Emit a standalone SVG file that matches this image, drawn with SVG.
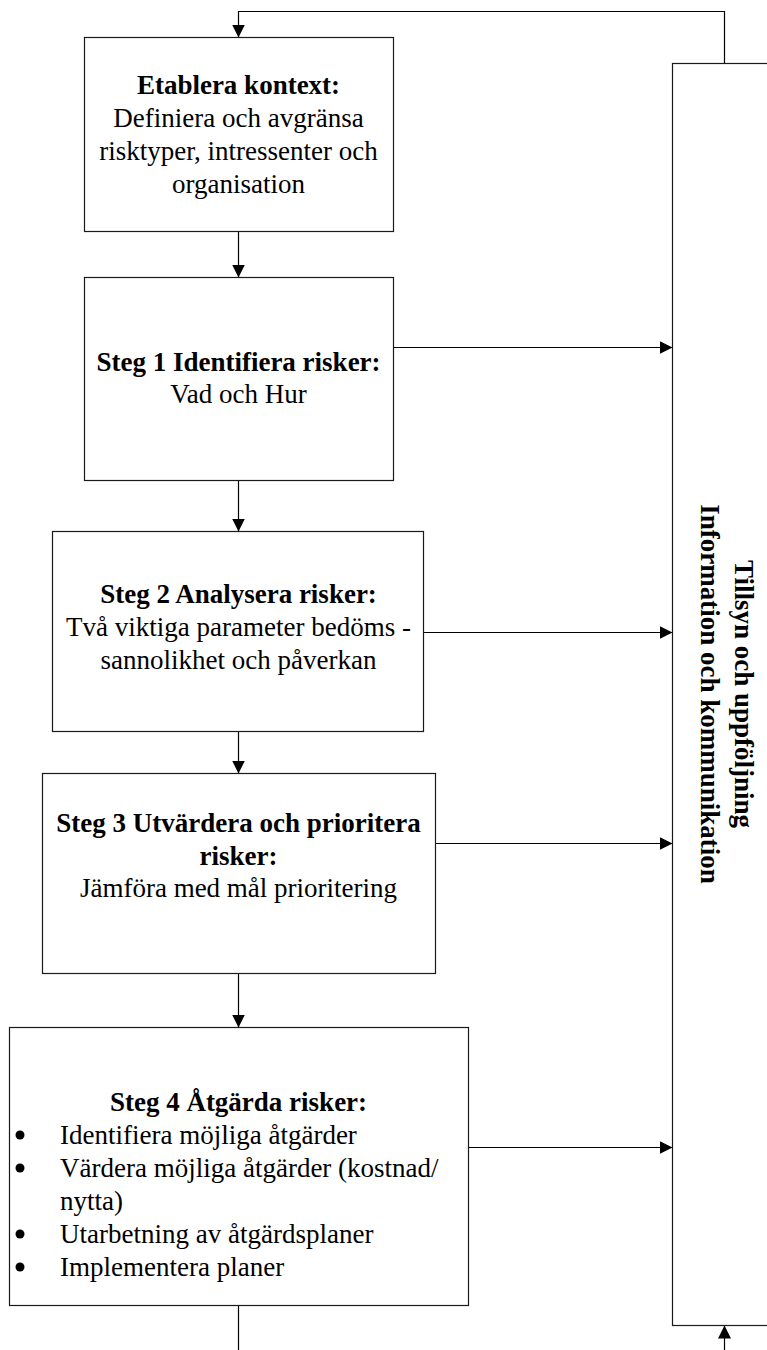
<svg xmlns="http://www.w3.org/2000/svg" width="767" height="1350" viewBox="0 0 767 1350">
  <style>
    .box { fill: #ffffff; stroke: #1a1a1a; stroke-width: 1.2; }
    .wire { fill: none; stroke: #000000; stroke-width: 1.2; }
    .dot { fill: #000000; }
    text { font-family: "Liberation Serif", "Times New Roman", serif; font-size: 27px; fill: #000000; }
    .c { text-anchor: middle; }
    .b { font-weight: bold; }
  </style>
  <defs>
    <marker id="arrow" markerUnits="userSpaceOnUse" markerWidth="13" markerHeight="13" refX="13" refY="6.5" orient="auto">
      <path d="M0,0 L13,6.5 L0,13 Z" fill="#000000"/>
    </marker>
  </defs>

  <rect width="767" height="1350" fill="#ffffff"/>

  <!-- connectors -->
  <g id="connectors">
    <!-- feedback loop from the monitoring column back to the start -->
    <polyline class="wire" points="724.5,63.5 724.5,11.5 238.5,11.5 238.5,37.5" marker-end="url(#arrow)"/>
    <line class="wire" x1="238.5" y1="231.5" x2="238.5" y2="277.5" marker-end="url(#arrow)"/>
    <line class="wire" x1="238.5" y1="480.5" x2="238.5" y2="531.5" marker-end="url(#arrow)"/>
    <line class="wire" x1="238.5" y1="731.5" x2="238.5" y2="773.5" marker-end="url(#arrow)"/>
    <line class="wire" x1="238.5" y1="973.5" x2="238.5" y2="1027.5" marker-end="url(#arrow)"/>
    <line class="wire" x1="238.5" y1="1305.5" x2="238.5" y2="1350"/>
    <!-- reporting into the monitoring column -->
    <line class="wire" x1="380" y1="347.5" x2="672.5" y2="347.5" marker-end="url(#arrow)"/>
    <line class="wire" x1="423.5" y1="632.5" x2="672.5" y2="632.5" marker-end="url(#arrow)"/>
    <line class="wire" x1="435.5" y1="843.5" x2="672.5" y2="843.5" marker-end="url(#arrow)"/>
    <line class="wire" x1="468.5" y1="1147.5" x2="672.5" y2="1147.5" marker-end="url(#arrow)"/>
    <line class="wire" x1="724.5" y1="1350" x2="724.5" y2="1325.5" marker-end="url(#arrow)"/>
  </g>

  <g id="kontext">
    <rect class="box" x="84.5" y="37.5" width="309" height="194"/>
    <text class="c b" x="238.5" y="94">Etablera kontext:</text>
    <text class="c" x="238.5" y="127">Definiera och avgränsa</text>
    <text class="c" x="238.5" y="160">risktyper, intressenter och</text>
    <text class="c" x="238.5" y="193">organisation</text>
  </g>

  <g id="steg1">
    <rect class="box" x="84.5" y="277.5" width="309" height="203"/>
    <text class="c b" x="238.5" y="371">Steg 1 Identifiera risker:</text>
    <text class="c" x="238.5" y="403">Vad och Hur</text>
  </g>

  <g id="steg2">
    <rect class="box" x="52.5" y="531.5" width="371" height="200"/>
    <text class="c b" x="238.5" y="603">Steg 2 Analysera risker:</text>
    <text class="c" x="238.5" y="636">Två viktiga parameter bedöms -</text>
    <text class="c" x="238.5" y="669">sannolikhet och påverkan</text>
  </g>

  <g id="steg3">
    <rect class="box" x="42.5" y="773.5" width="393" height="200"/>
    <text class="c b" x="238.5" y="832">Steg 3 Utvärdera och prioritera</text>
    <text class="c b" x="238.5" y="865">risker:</text>
    <text class="c" x="238.5" y="897">Jämföra med mål prioritering</text>
  </g>

  <g id="steg4">
    <rect class="box" x="9.5" y="1027.5" width="459" height="278"/>
    <text class="c b" x="238.5" y="1111">Steg 4 Åtgärda risker:</text>
    <circle class="dot" cx="20" cy="1135" r="4.5"/>
    <text x="60" y="1144">Identifiera möjliga åtgärder</text>
    <circle class="dot" cx="20" cy="1168" r="4.5"/>
    <text x="60" y="1177">Värdera möjliga åtgärder (kostnad/</text>
    <text x="60" y="1210">nytta)</text>
    <circle class="dot" cx="20" cy="1234" r="4.5"/>
    <text x="60" y="1243">Utarbetning av åtgärdsplaner</text>
    <circle class="dot" cx="20" cy="1267" r="4.5"/>
    <text x="60" y="1276">Implementera planer</text>
  </g>

  <g id="tillsyn">
    <rect class="box" x="672.5" y="63.5" width="120" height="1262"/>
    <text class="c b" transform="translate(735,694) rotate(90)">Tillsyn och uppföljning</text>
    <text class="c b" transform="translate(701,694) rotate(90)">Information och kommunikation</text>
  </g>
</svg>
